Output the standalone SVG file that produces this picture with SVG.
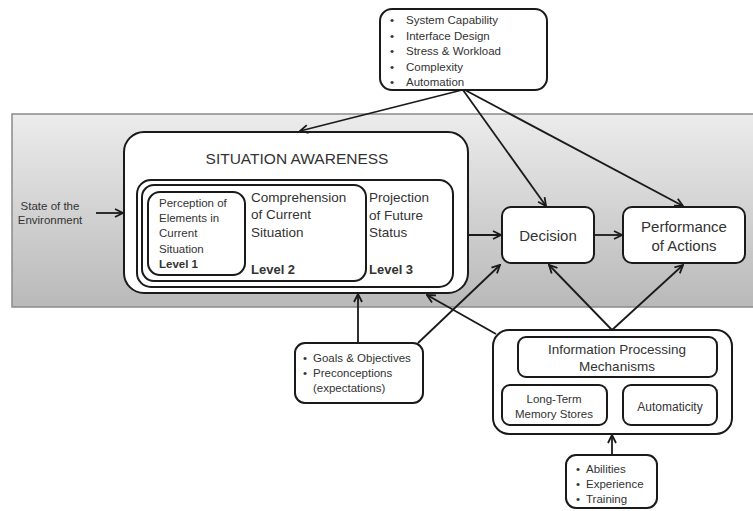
<svg xmlns="http://www.w3.org/2000/svg" width="753" height="511" viewBox="0 0 753 511">
  <defs>
    <linearGradient id="band" x1="0" y1="0" x2="0" y2="1">
      <stop offset="0" stop-color="#ececec"/>
      <stop offset="1" stop-color="#b9b9b9"/>
    </linearGradient>
    <marker id="arrow" viewBox="0 0 10 10" refX="9" refY="5" markerWidth="10" markerHeight="10" markerUnits="userSpaceOnUse" orient="auto">
      <path d="M1,1 L9,5 L1,9" fill="none" stroke="#1a1a1a" stroke-width="1.8"/>
    </marker>
  </defs>
  <style>
    .box { fill: #ffffff; stroke: #1a1a1a; stroke-width: 2; }
    .t { font-family: "Liberation Sans", Arial, sans-serif; fill: #333333; }
    .b { font-weight: bold; }
    .c { text-anchor: middle; }
    .conn line { stroke: #1a1a1a; stroke-width: 1.8; marker-end: url(#arrow); }
  </style>

  <rect width="753" height="511" fill="#ffffff"/>

  <!-- shaded environment band -->
  <rect x="12" y="114" width="746" height="193" fill="url(#band)" stroke="#8a8a8a" stroke-width="1.5"/>

  <g id="environment">
    <text class="t c" x="50" y="210" font-size="11.5">State of the</text>
    <text class="t c" x="50" y="224" font-size="11.5">Environment</text>
  </g>

  <g id="factors-top">
    <rect class="box" x="380" y="9" width="167" height="81" rx="12"/>
    <g class="t" font-size="11.5">
      <text x="390" y="24">•</text><text x="406" y="24">System Capability</text>
      <text x="390" y="39.5">•</text><text x="406" y="39.5">Interface Design</text>
      <text x="390" y="55">•</text><text x="406" y="55">Stress &amp; Workload</text>
      <text x="390" y="70.5">•</text><text x="406" y="70.5">Complexity</text>
      <text x="390" y="86">•</text><text x="406" y="86">Automation</text>
    </g>
  </g>

  <g id="situation-awareness">
    <rect class="box" x="124" y="132" width="344" height="161" rx="20"/>
    <text class="t c" x="297" y="164" font-size="15.5">SITUATION AWARENESS</text>
    <rect class="box" x="137" y="180" width="316" height="107" rx="14"/>
    <rect class="box" x="142" y="185" width="224" height="96" rx="12"/>
    <rect class="box" x="148" y="192" width="97" height="83" rx="12"/>
    <g class="t" font-size="11.5">
      <text x="159" y="207">Perception of</text>
      <text x="159" y="222">Elements in</text>
      <text x="159" y="237">Current</text>
      <text x="159" y="253">Situation</text>
      <text class="b" x="159" y="268">Level 1</text>
    </g>
    <g class="t" font-size="13.5">
      <text x="251" y="202">Comprehension</text>
      <text x="251" y="219">of Current</text>
      <text x="251" y="237">Situation</text>
      <text class="b" x="251" y="274" font-size="13">Level 2</text>
      <text x="369" y="202">Projection</text>
      <text x="369" y="220">of Future</text>
      <text x="369" y="237">Status</text>
      <text class="b" x="369" y="274" font-size="13">Level 3</text>
    </g>
  </g>

  <g id="decision">
    <rect class="box" x="502" y="207" width="92" height="56" rx="9"/>
    <text class="t c" x="548" y="241" font-size="15">Decision</text>
  </g>

  <g id="performance">
    <rect class="box" x="623" y="207" width="122" height="56" rx="9"/>
    <text class="t c" x="684" y="232" font-size="15">Performance</text>
    <text class="t c" x="684" y="251" font-size="15">of Actions</text>
  </g>

  <g id="goals">
    <rect class="box" x="295" y="343" width="128" height="60" rx="10"/>
    <g class="t" font-size="11.5">
      <text x="303" y="362">•</text><text x="313" y="362">Goals &amp; Objectives</text>
      <text x="303" y="377">•</text><text x="313" y="377">Preconceptions</text>
      <text x="313" y="392">(expectations)</text>
    </g>
  </g>

  <g id="information-processing">
    <rect class="box" x="493" y="330" width="239" height="104" rx="16"/>
    <rect class="box" x="518" y="337" width="199" height="40" rx="8"/>
    <text class="t c" x="617" y="354" font-size="13.5">Information Processing</text>
    <text class="t c" x="617" y="371" font-size="13.5">Mechanisms</text>
    <rect class="box" x="502" y="385" width="105" height="40" rx="8"/>
    <text class="t c" x="554" y="403" font-size="11.5">Long-Term</text>
    <text class="t c" x="554" y="418" font-size="11.5">Memory Stores</text>
    <rect class="box" x="623" y="385" width="94" height="40" rx="8"/>
    <text class="t c" x="670" y="411" font-size="12">Automaticity</text>
  </g>

  <g id="abilities">
    <rect class="box" x="566" y="455" width="91" height="53" rx="10"/>
    <g class="t" font-size="11.5">
      <text x="576" y="473">•</text><text x="586" y="473">Abilities</text>
      <text x="576" y="488">•</text><text x="586" y="488">Experience</text>
      <text x="576" y="503">•</text><text x="586" y="503">Training</text>
    </g>
  </g>

  <g id="connectors" class="conn">
    <line x1="96" y1="213" x2="123" y2="213"/>
    <line x1="468" y1="235" x2="501" y2="235"/>
    <line x1="594" y1="235" x2="622" y2="235"/>
    <line x1="462" y1="90" x2="300" y2="131"/>
    <line x1="463" y1="90" x2="546" y2="206"/>
    <line x1="465" y1="90" x2="683" y2="206"/>
    <line x1="358" y1="343" x2="358" y2="294"/>
    <line x1="418" y1="343" x2="500" y2="265"/>
    <line x1="612" y1="330" x2="549" y2="265"/>
    <line x1="612" y1="330" x2="683" y2="265"/>
    <line x1="496" y1="334" x2="427" y2="295"/>
    <line x1="612" y1="455" x2="612" y2="435"/>
  </g>
</svg>
